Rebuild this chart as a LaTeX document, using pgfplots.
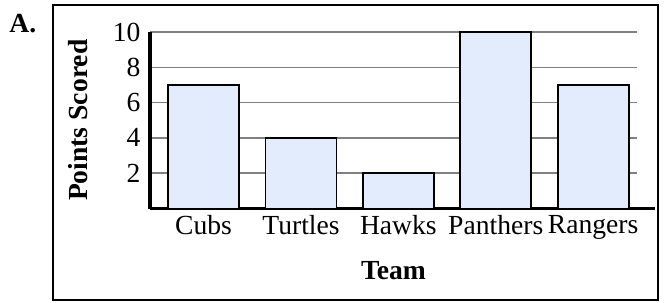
\documentclass[border=0pt]{standalone}
\usepackage{fontspec}
\setmainfont{Liberation Serif}
\usepackage{pgfplots}
\pgfplotsset{compat=1.18}
\definecolor{barfill}{RGB}{226,236,252}
\definecolor{gridgray}{RGB}{128,128,128}
\begin{document}
\fontsize{13.8}{16}\selectfont
\begin{tikzpicture}
\begin{axis}[
  scale only axis,
  width=243.5pt, height=88.25pt,
  xmin=-0.55, xmax=4.45,
  ymin=0, ymax=10,
  ybar, bar width=35.5pt,
  xtick=data,
  xticklabels={Cubs,Turtles,Hawks,Panthers,Rangers},
  ytick={2,4,6,8,10},
  ymajorgrids=true,
  grid style={gridgray, line width=0.75pt},
  major tick length=0pt,
  tick style={draw=none},
  axis x line=bottom, axis y line=left,
  axis line style={-, line width=1.75pt},
  x axis line style={shorten >=-9pt},
  /pgf/number format/assume math mode=true,
  tick label style={font=\fontsize{13.8}{16}\selectfont},
  xticklabel style={yshift=1.5pt},
  xlabel={\textbf{Team}},
  ylabel={\textbf{Points Scored}},
  xlabel style={at={(axis description cs:0.5,-0.354)}, anchor=center, font=\fontsize{13.8}{16}\selectfont},
  ylabel style={at={(axis description cs:-0.148,0.5)}, anchor=center, font=\fontsize{13.8}{16}\selectfont},
  clip=false,
]
\addplot[fill=barfill, draw=black, line width=0.9pt] coordinates {(0,7) (1,4) (2,2) (3,10) (4,7)};
\draw[line width=1pt] (axis description cs:-0.1992,1.1530) rectangle (axis description cs:1.0431,-0.5212);
\node[anchor=base west, inner sep=0pt, font=\fontsize{13.8}{16}\selectfont\bfseries] at (axis description cs:-0.2895,1.0) {A.};
\path (axis description cs:-0.30801,1.18130) rectangle (axis description cs:1.05749,-0.52975);
\end{axis}
\end{tikzpicture}
\end{document}
